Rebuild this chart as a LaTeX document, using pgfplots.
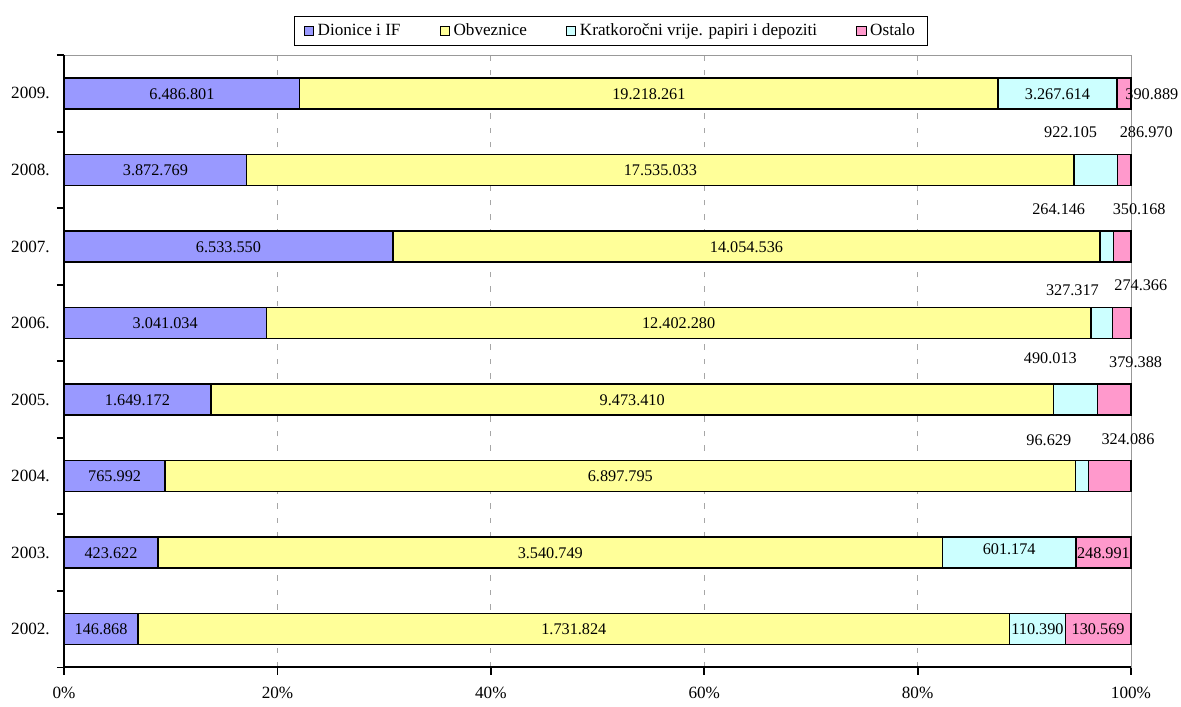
\documentclass[border=0pt]{standalone}
\usepackage{pgfplots}
\pgfplotsset{compat=1.18}
\usepackage{pgfplotstable}
\usepackage{fontspec}
\setmainfont{Liberation Serif}

\definecolor{cDio}{HTML}{9999FF}
\definecolor{cObv}{HTML}{FFFF99}
\definecolor{cKra}{HTML}{CCFFFF}
\definecolor{cOst}{HTML}{FF99CC}

% share of each year's total (%), label = amount/dx/dy (label offset in pt)
\pgfplotstableread{
year pct    lbl
2002 6.929  146.868/0/0
2003 8.799  423.622/0/0
2004 9.475  765.992/0/0
2005 13.752 1.649.172/0/0
2006 18.953 3.041.034/0/0
2007 30.815 6.533.550/0/0
2008 17.123 3.872.769/0/0
2009 22.091 6.486.801/0/0
}\dionice
\pgfplotstableread{
year pct    lbl
2002 81.703 1.731.824/0/0
2003 73.543 3.540.749/0/0
2004 85.321 6.897.795/0/0
2005 78.998 9.473.410/0/0
2006 77.297 12.402.280/0/0
2007 66.288 14.054.536/0/0
2008 77.531 17.535.033/0/0
2009 65.449 19.218.261/0/0
}\obveznice
\pgfplotstableread{
year pct    lbl
2002 5.208  110.390/0/0
2003 12.487 601.174/0/2
2004 1.195  96.629/-18.3/20
2005 4.086  490.013/-13.9/23
2006 2.040  327.317/-16.3/18.5
2007 1.246  264.146/-26.6/21
2008 4.077  922.105/-13.9/21
2009 11.128 3.267.614/0/0
}\kratkorocni
\pgfplotstableread{
year pct    lbl
2002 6.160  130.569/0/0
2003 5.172  248.991/0/0
2004 4.009  324.086/10.2/20.5
2005 3.164  379.388/11.9/21
2006 1.710  274.366/10.5/21
2007 1.652  350.168/9.4/21
2008 1.269  286.970/12.2/21
2009 1.331  390.889/15.5/0
}\ostalo

% label text shifted by dx (right) and dy (up)
\def\shiftlblA#1/#2/#3\relax{%
  \raisebox{\dimexpr#3pt-3.2pt\relax}[0pt][0pt]{\makebox[0pt][c]{\hspace*{#2pt}\hspace*{#2pt}#1}}}
\newcommand\shiftlbl{\edef\tmplbl{\pgfplotspointmeta}\expandafter\shiftlblA\tmplbl\relax}

\pgfplotsset{
    seg/.style={
        fill=#1, draw=black, line width=0.8pt,
        point meta=explicit symbolic,
        nodes near coords={\shiftlbl},
        every node near coord/.append style={
            font=\fontsize{9}{10.8}\selectfont, text=black},
    },
}

\begin{document}
\begin{tikzpicture}
\begin{axis}[
    x=5.91pt, y=42.4pt,
    xmin=0, xmax=100,
    ymin=2001.5, ymax=2009.5,
    xbar stacked,
    bar width=17.2pt,
    clip=false,
    axis line style={draw=gray!80, line width=0.5pt},
    xtick={0,20,...,100},
    xticklabel={\pgfmathprintnumber{\tick}\%},
    xticklabel style={yshift=-3.5pt},
    ytick={2001.5,2002.5,...,2009.5},
    yticklabels={},
    extra y ticks={2002,...,2009},
    extra y tick labels={2002.,2003.,2004.,2005.,2006.,2007.,2008.,2009.},
    extra y tick style={major tick length=0pt, grid=none,
        yticklabel style={xshift=-4.4pt}},
    tick pos=left,
    tick align=outside,
    major tick length=4pt,
    tick style={black, line width=1pt},
    tick label style={font=\fontsize{9.5}{11}\selectfont},
    /pgf/number format/assume math mode=true,
    xmajorgrids,
    major x grid style={gray!70, dash pattern=on 3pt off 5pt, line width=0.4pt},
    legend style={at={(0.5127,1.014)}, anchor=south, legend columns=4,
        draw=black, line width=0.6pt, font=\fontsize{9.5}{11}\selectfont,
        inner ysep=2.2pt, inner xsep=5pt,
        /tikz/every even column/.append style={column sep=19.6pt}},
    legend image code/.code={\draw[#1, draw=black, line width=0.6pt]
        (0pt,-2.6pt) rectangle (5.2pt,2.6pt);},
]
\addplot[seg=cDio] table[x=pct, y=year, meta=lbl] {\dionice};
\addlegendentry{Dionice i IF}
\addplot[seg=cObv] table[x=pct, y=year, meta=lbl] {\obveznice};
\addlegendentry{Obveznice}
\addplot[seg=cKra] table[x=pct, y=year, meta=lbl] {\kratkorocni};
\addlegendentry{Kratkoročni vrije. papiri i depoziti}
\addplot[seg=cOst] table[x=pct, y=year, meta=lbl] {\ostalo};
\addlegendentry{Ostalo}
\draw[black, line width=1.1pt] (rel axis cs:0,1) -- (rel axis cs:0,0) -- (rel axis cs:1,0);
% page margins as in the reference
\path (rel axis cs:1,1) ++(27.7pt,30.5pt);
\path (rel axis cs:0,0) ++(-35.5pt,-21.6pt);
\end{axis}
\end{tikzpicture}
\end{document}
